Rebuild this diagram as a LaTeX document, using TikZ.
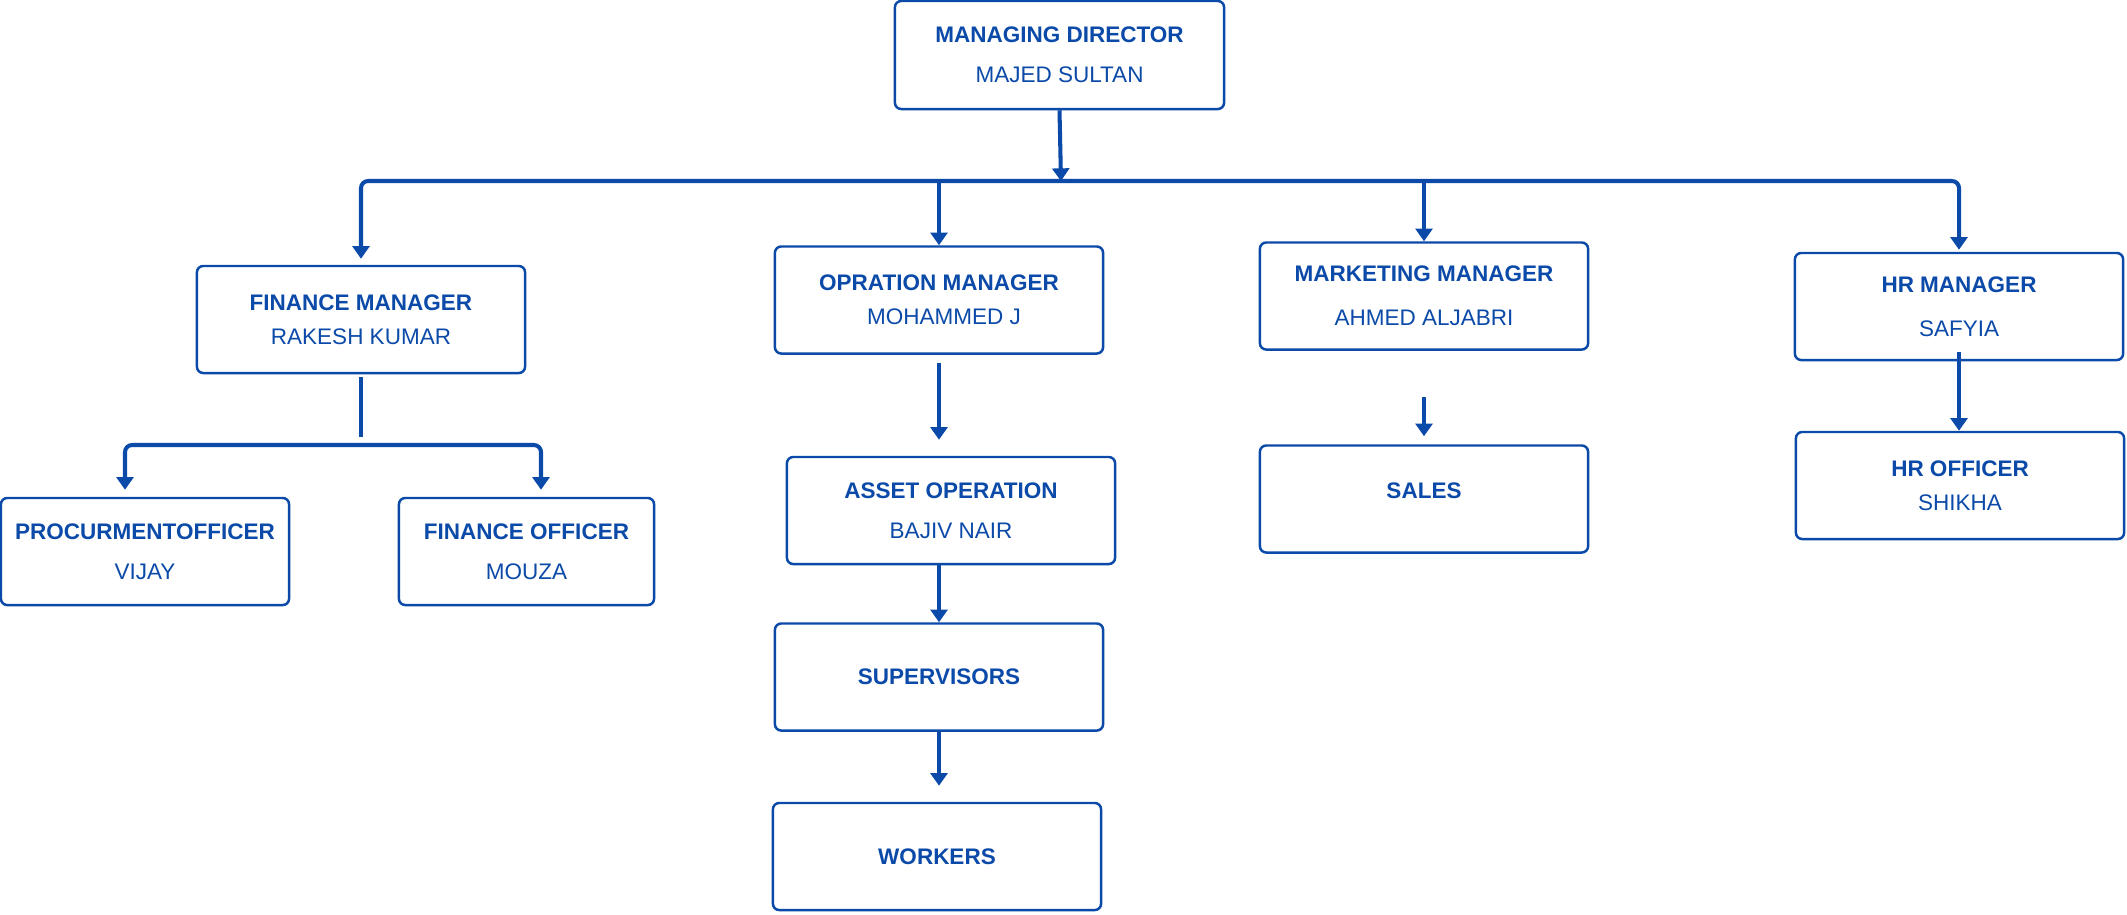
\documentclass[tikz,border=0pt]{standalone}
\usepackage{fontspec}
\setmainfont{Liberation Sans}
\usetikzlibrary{arrows.meta,positioning,calc}
\definecolor{royal}{HTML}{0B4AA8}
\newcommand{\role}[2]{\textbf{#1}\\#2}
\tikzset{
  box/.style={rectangle, rounded corners=1.8pt, draw=royal, fill=white, line width=0.7pt,
              align=center, inner sep=0pt, text=royal, font=\fontsize{6.4}{11.5}\selectfont,
              minimum width=3.28cm, minimum height=1.07cm},
  tight/.style={font=\fontsize{6.4}{9.8}\selectfont},
  loose/.style={font=\fontsize{6.4}{12.6}\selectfont},
  flow/.style={-{Triangle[length=3.6pt,width=4.8pt]}, draw=royal, line width=1.15pt},
  link/.style={draw=royal, line width=1.15pt},
  fork/.style={{Triangle[length=3.6pt,width=4.8pt]}-{Triangle[length=3.6pt,width=4.8pt]},
               draw=royal, line width=1.15pt, rounded corners=2pt}
}
\begin{document}
\begin{tikzpicture}[x=0.01cm, y=-0.01cm]
 \useasboundingbox (0,0) rectangle (2127,914);
 % top and managers
 \node[box, minimum width=3.29cm, minimum height=1.08cm] (md) at (1059.5,55) {\role{MANAGING DIRECTOR}{MAJED SULTAN}};
 \node[box, tight] (fm) at (361,319.5) {\role{FINANCE MANAGER}{RAKESH KUMAR}};
 \node[box, tight] (om) at (939,300) {\role{OPRATION MANAGER}{\hspace{0.1cm}MOHAMMED J}};
 \node[box, loose] (mk) at (1424,296) {\role{MARKETING MANAGER}{AHMED ALJABRI}};
 \node[box, loose] (hr) at (1959,306.5) {\role{HR MANAGER}{SAFYIA}};
 % staff
 \node[box, minimum width=2.88cm] (po) at (145,551.5) {\role{PROCURMENTOFFICER}{VIJAY}};
 \node[box, minimum width=2.55cm] (fo) at (526.5,551.5) {\role{FINANCE OFFICER}{MOUZA}};
 \node[box] (ao) at (951,510.5) {\role{ASSET OPERATION}{BAJIV NAIR}};
 \node[box] (sv) at (939,677) {\textbf{SUPERVISORS}};
 \node[box] (wk) at (937,856.5) {\textbf{WORKERS}};
 \node[box] (sl) at (1424,499) {\raisebox{0.16cm}{\textbf{SALES}}};
 \node[box, tight] (ho) at (1960,485.5) {\role{HR OFFICER}{SHIKHA}};
 % connectors
 \coordinate (bus) at (1061,181);
 \draw[flow] (md.south) -- (bus);
 \draw[fork, shorten <=0.06cm, shorten >=0.02cm] (fm.north) -- (fm.north |- bus) -- (hr.north |- bus) -- (hr.north);
 \draw[flow] (om.north |- bus) -- (om.north);
 \draw[flow] (mk.north |- bus) -- (mk.north);
 \coordinate (fbar) at (358,445);
 \coordinate (pa) at (125,445);
 \coordinate (fa) at (541,445);
 \draw[link, shorten <=0.03cm, shorten >=0.08cm] (fm.south) -- (fm.south |- fbar);
 \draw[fork, shorten <=0.07cm, shorten >=0.07cm] (pa |- po.north) -- (pa) -- (fa) -- (fa |- fo.north);
 \draw[flow, shorten <=0.08cm, shorten >=0.16cm] (om.south) -- (om.south |- ao.north);
 \draw[flow] (sv.north |- ao.south) -- (sv.north);
 \draw[flow, shorten >=0.16cm] (sv.south) -- (sv.south |- wk.north);
 \draw[flow, shorten <=0.46cm, shorten >=0.08cm] (mk.south) -- (mk.south |- sl.north);
 \draw[flow, shorten <=-0.09cm] (hr.south) -- (hr.south |- ho.north);
\end{tikzpicture}
\end{document}
